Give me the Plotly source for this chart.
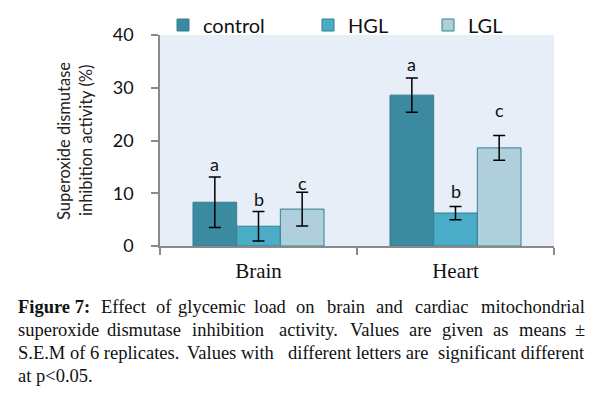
import plotly.graph_objects as go

# ---- data ----
categories = ["Brain", "Heart"]
series_names = ["control", "HGL", "LGL"]
control_vals = [8.3, 28.6]
control_err = [4.8, 3.25]
hgl_vals = [3.75, 6.25]
hgl_err = [2.8, 1.25]
lgl_vals = [7.0, 18.6]
lgl_err = [3.2, 2.35]
# significance letters and their heights
control_letters = ["a", "a"]
hgl_letters = ["b", "b"]
lgl_letters = ["c", "c"]
control_letter_y = [15.5, 34.5]
hgl_letter_y = [8.9, 10.5]
lgl_letter_y = [12.0, 25.7]
y_ticks = [0, 10, 20, 30, 40]
y_title_lines = ["Superoxide dismutase", "inhibition activity (%)"]

fill_colors = ["#3b8aa0", "#4aacc6", "#b0cfdc"]
edge_color = "#337f93"
sans = "Lato, 'Noto Sans', sans-serif"
serif = "'Liberation Serif', 'Times New Roman', serif"

W, H = 601, 397
ml, mr, mt, mb = 160, 47, 35, 151
bargap = 0.335
plot_w = W - ml - mr
plot_h = H - mt - mb


def px_x(px):
    return (px - ml) / plot_w


def px_y(py):
    return 1 - (py - mt) / plot_h


fig = go.Figure()
vals = [control_vals, hgl_vals, lgl_vals]
errs = [control_err, hgl_err, lgl_err]
legends = ["legend", "legend2", "legend3"]
for i in range(3):
    fig.add_trace(go.Bar(
        x=categories, y=vals[i], name=series_names[i],
        marker=dict(color=fill_colors[i], line=dict(color=edge_color, width=1)),
        error_y=dict(type="data", array=errs[i], visible=True,
                     color="black", thickness=1.5, width=6),
        legend=legends[i],
    ))

# letters above bars
bar_px = plot_w / len(categories) * (1 - bargap) / 3
letters = [control_letters, hgl_letters, lgl_letters]
letter_y = [control_letter_y, hgl_letter_y, lgl_letter_y]
for i in range(3):
    for j, c in enumerate(categories):
        fig.add_annotation(x=c, y=letter_y[i][j], text=letters[i][j],
                           xshift=(i - 1) * bar_px, showarrow=False,
                           yanchor="middle",
                           font=dict(family=sans, size=18, color="#111"))

# y-axis title, two rotated lines
for k, (line, cx) in enumerate(zip(y_title_lines, [64, 86])):
    fig.add_annotation(xref="paper", yref="paper", x=px_x(cx), y=px_y(141),
                       text=line, textangle=-90, showarrow=False,
                       xanchor="center", yanchor="middle",
                       font=dict(family=sans, size=16.5, color="#222"))

# caption (justified lines emulated by word placement)
cap_font = dict(family=serif, size=18.5, color="#111")
line_y = [306.5, 329.5, 352.5, 375.5]
caption_words = [
    [("<b>Figure 7:</b>", 16, "left"), ("Effect", 123.5, "center"),
     ("of", 163.5, "center"), ("glycemic", 212, "center"),
     ("load", 270, "center"), ("on", 305, "center"),
     ("brain", 345.5, "center"), ("and", 389, "center"),
     ("cardiac", 441.5, "center"), ("mitochondrial", 587, "right")],
    [("superoxide", 16, "left"), ("dismutase", 144, "center"),
     ("inhibition", 228, "center"), ("activity.", 308, "center"),
     ("Values", 374.5, "center"), ("are", 420, "center"),
     ("given", 462.5, "center"), ("as", 500, "center"),
     ("means", 542, "center"), ("±", 587, "right")],
    [("S.E.M of 6 replicates.", 16, "left"), ("Values with", 230, "center"),
     ("different letters are", 357.5, "center"),
     ("significant different", 587, "right")],
    [("at p&lt;0.05.", 16, "left")],
]
for k, words in enumerate(caption_words):
    for text, xpos, anchor in words:
        fig.add_annotation(xref="paper", yref="paper",
                           x=px_x(xpos), y=px_y(line_y[k]),
                           text=text, showarrow=False, xanchor=anchor,
                           yanchor="middle", font=cap_font)

# separate legends to place each entry
leg_x = [163, 308, 428]
leg_common = dict(orientation="h", xref="container", yref="container",
                  yanchor="middle", y=1 - 25 / H, xanchor="left",
                  font=dict(family=sans, size=20, color="#111"),
                  bgcolor="rgba(0,0,0,0)", borderwidth=0)
fig.update_layout(
    legend=dict(x=leg_x[0] / W, **leg_common),
    legend2=dict(x=leg_x[1] / W, **leg_common),
    legend3=dict(x=leg_x[2] / W, **leg_common),
)

fig.update_layout(
    width=W, height=H,
    margin=dict(l=ml, r=mr, t=mt, b=mb, autoexpand=False),
    paper_bgcolor="white", plot_bgcolor="#e8eef7",
    barmode="group", bargap=bargap, bargroupgap=0,
    showlegend=True,
    xaxis=dict(type="category", showgrid=False, zeroline=False,
               showline=True, linecolor="#8a8a8a", linewidth=1.5,
               ticks="outside", tickson="boundaries", ticklen=7,
               tickcolor="#8a8a8a", tickwidth=1.5, ticklabelstandoff=5,
               tickfont=dict(family=serif, size=21, color="#111")),
    yaxis=dict(range=[0, 40], tickvals=y_ticks, showgrid=False,
               zeroline=False, showline=True, linecolor="#8a8a8a",
               linewidth=1.5, ticks="outside", ticklen=7,
               tickcolor="#8a8a8a", tickwidth=1.5, ticklabelstandoff=14,
               tickfont=dict(family=sans, size=18, color="#111")),
)

fig.write_html("out.html", config={"displayModeBar": False},
               post_script="document.body.style.margin='0';document.body.style.padding='0';")
